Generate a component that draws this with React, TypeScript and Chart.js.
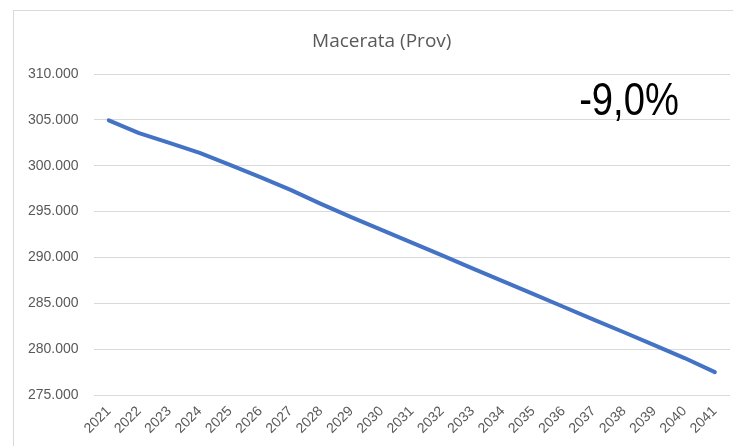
import React, { useEffect, useRef } from "react";
import { Chart, registerables } from "chart.js";

Chart.register(...registerables);

const TITLE = "Macerata (Prov)";
const YEARS = [
  "2021", "2022", "2023", "2024", "2025", "2026", "2027", "2028", "2029", "2030", "2031",
  "2032", "2033", "2034", "2035", "2036", "2037", "2038", "2039", "2040", "2041",
];
const POPULATION = [
  304950, 303550, 302500, 301400, 300100, 298750, 297370, 295850, 294400, 293000, 291620,
  290220, 288820, 287430, 286040, 284630, 283230, 281850, 280440, 279040, 277500,
];
const Y_MIN = 275000;
const Y_MAX = 310000;
const Y_STEP = 5000;

const GRAY = "#595959";
const GRID = "#d9d9d9";
const TICK_FONT = "'Liberation Sans', Arial, sans-serif";

const pct = (POPULATION[POPULATION.length - 1] / POPULATION[0] - 1) * 100;
const PCT_LABEL = pct.toFixed(1).replace(".", ",") + "%";

const FRAME_LEFT = 13.5;
const FRAME_TOP = 10.5;

const framePlugin = {
  id: "frame",
  beforeDraw(chart: any) {
    const ctx = chart.ctx;
    ctx.save();
    ctx.fillStyle = "#ffffff";
    ctx.fillRect(0, 0, chart.width, chart.height);
    ctx.strokeStyle = GRID;
    ctx.lineWidth = 1;
    ctx.strokeRect(FRAME_LEFT, FRAME_TOP, chart.width + 10, chart.height + 10);
    // title centred on the chart frame (frame spans past the right edge)
    ctx.fillStyle = GRAY;
    ctx.font = "19px 'Open Sans', sans-serif";
    ctx.textAlign = "center";
    ctx.textBaseline = "middle";
    ctx.fillText(TITLE, (FRAME_LEFT + chart.width + 17) / 2, 42);
    ctx.restore();
  },
};

const pctPlugin = {
  id: "pctLabel",
  afterDraw(chart: any) {
    const { ctx, chartArea } = chart;
    ctx.save();
    ctx.fillStyle = "#000000";
    ctx.font = "46px 'Liberation Sans', Arial, sans-serif";
    ctx.textAlign = "center";
    ctx.textBaseline = "alphabetic";
    const cx = chartArea.right - 101;
    const cy = chartArea.top + 41;
    ctx.translate(cx, cy);
    ctx.scale(0.83, 1);
    ctx.fillText(PCT_LABEL, 0, 0);
    ctx.restore();
  },
};

export default function App() {
  const ref = useRef<HTMLCanvasElement | null>(null);

  useEffect(() => {
    if (!ref.current) return;
    const chart = new Chart(ref.current, {
      type: "line",
      data: {
        labels: YEARS,
        datasets: [
          {
            data: POPULATION,
            borderColor: "#4472C4",
            backgroundColor: "#4472C4",
            borderWidth: 4,
            pointRadius: 0,
            tension: 0,
            borderCapStyle: "round",
            borderJoinStyle: "round",
          },
        ],
      },
      options: {
        animation: false,
        responsive: false,
        maintainAspectRatio: false,
        layout: { padding: { left: 13, right: 3, top: 74, bottom: 1 } },
        plugins: {
          legend: { display: false },
          tooltip: { enabled: false },
          title: { display: false },
        },
        scales: {
          x: {
            offset: true,
            grid: { display: false, drawTicks: false },
            border: { display: false },
            afterFit: (scale: any) => {
              scale.paddingLeft = 0;
              scale.paddingRight = 0;
            },
            ticks: {
              color: GRAY,
              font: { family: TICK_FONT, size: 14 },
              minRotation: 45,
              maxRotation: 45,
              autoSkip: false,
              padding: 8,
            },
          },
          y: {
            min: Y_MIN,
            max: Y_MAX,
            grid: { color: GRID, lineWidth: 1, drawTicks: false },
            border: { display: false },
            ticks: {
              stepSize: Y_STEP,
              color: GRAY,
              font: { family: TICK_FONT, size: 14 },
              padding: 15,
              callback: (v: any) => Number(v).toLocaleString("it-IT", { useGrouping: true, minimumFractionDigits: 0 }).replace(/\s/g, "."),
            },
          },
        },
      },
      plugins: [framePlugin, pctPlugin],
    });
    return () => chart.destroy();
  }, []);

  return (
    <div style={{ position: "fixed", left: 0, top: 0, width: 733, height: 446, background: "#fff" }}>
      <canvas ref={ref} width={733} height={446} style={{ display: "block" }} />
    </div>
  );
}
